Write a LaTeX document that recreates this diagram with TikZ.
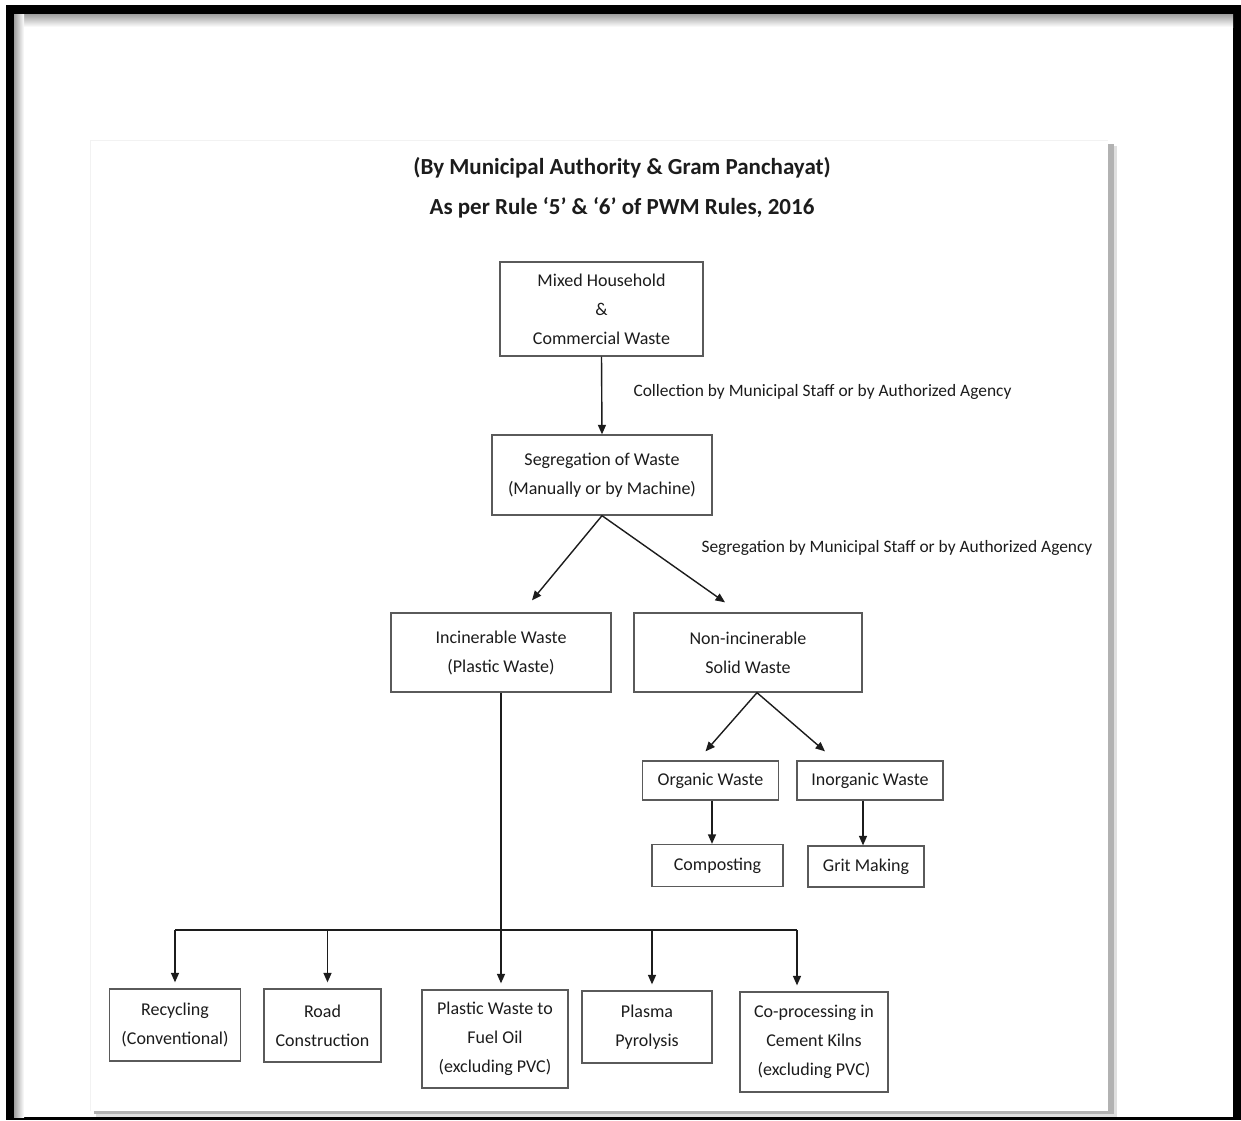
\documentclass[tikz,border=0pt]{standalone}
\usepackage{fontspec}
\setmainfont{Carlito}
\usetikzlibrary{arrows.meta}
\definecolor{boxgray}{HTML}{5A5A5A}
\definecolor{ink}{HTML}{1C1C1C}
\begin{document}
\begin{tikzpicture}[x=1pt,y=-1pt,
  box/.style={draw=boxgray,line width=1.3pt,text=ink,align=center,inner sep=0pt,
    font=\fontsize{18}{29}\selectfont},
  lbl/.style={anchor=west,text=ink,font=\fontsize{17.4}{22}\selectfont},
  ttl/.style={text=ink,font=\fontsize{23}{28}\selectfont\bfseries},
  conn/.style={draw=ink,line width=1.4pt},
  arr/.style={conn,-{Triangle[length=9.5pt,width=8pt]}}]
  \useasboundingbox (0,0) rectangle (1241,1120);
  % outer frame
  \fill[black] (6,5) rectangle (1241,1120);
  \fill[white] (14,14) rectangle (1233,1117);
  \shade[top color=gray!75,bottom color=white] (14,14) rectangle (1233,27);
  \shade[left color=gray!75,right color=white] (14,14) rectangle (24,1117);
  % page with shadow
  \fill[gray!25] (96,146) rectangle (1117,1117);
  \fill[gray!60] (94,144) rectangle (1114,1114);
  \fill[white] (90,140) rectangle (1108,1111);
  \draw[gray!10] (90,1111) -- (90,140) -- (1108,140);

  % title
  \node[ttl] (t1) at (622,168) {(By Municipal Authority \& Gram Panchayat)};
  \node[ttl] (t2) at (622,208) {As per Rule ‘5’ \& ‘6’ of PWM Rules, 2016};

  % boxes
  \node[box,minimum width=203pt,minimum height=94pt] (mixed) at (601.5,309)
    {Mixed Household\\\&\\Commercial Waste};
  \node[box,minimum width=220pt,minimum height=80pt] (segr) at (602,475)
    {Segregation of Waste\\(Manually or by Machine)};
  \node[box,minimum width=220pt,minimum height=79pt] (incin) at (501,652.5)
    {Incinerable Waste\\(Plastic Waste)};
  \node[box,minimum width=228pt,minimum height=79pt] (nonin) at (748,652.5)
    {Non-incinerable\\Solid Waste};
  \node[box,minimum width=136pt,minimum height=39pt] (organic) at (710.5,780.5) {Organic Waste};
  \node[box,minimum width=146pt,minimum height=39pt] (inorganic) at (870,780.5) {Inorganic Waste};
  \node[box,minimum width=131pt,minimum height=42pt] (compost) at (717.5,865.5) {Composting};
  \node[box,minimum width=116pt,minimum height=41pt] (grit) at (866,866.5) {Grit Making};
  \node[box,minimum width=131pt,minimum height=72pt] (recyc) at (175,1025)
    {Recycling\\(Conventional)};
  \node[box,minimum width=117pt,minimum height=73pt] (road) at (322.5,1025.5)
    {Road\\Construction};
  \node[box,minimum width=146pt,minimum height=98pt] (fuel) at (495,1039)
    {Plastic Waste to\\Fuel Oil\\(excluding PVC)};
  \node[box,minimum width=130pt,minimum height=72pt] (plasma) at (647,1027)
    {Plasma\\Pyrolysis};
  \node[box,minimum width=148pt,minimum height=100pt] (cement) at (814,1042)
    {Co-processing in\\Cement Kilns\\(excluding PVC)};

  % labels
  \node[lbl] (collect) at (630,392) {Collection by Municipal Staff or by Authorized Agency};
  \node[lbl] (segrby) at (698,548) {Segregation by Municipal Staff or by Authorized Agency};

  % connectors
  \draw[arr] (mixed.south) -- (segr.north);
  \draw[arr] (segr.south) -- ([xshift=31pt,yshift=12pt]incin.north);
  \draw[arr] (segr.south) -- ([xshift=-23pt,yshift=10pt]nonin.north);
  \draw[arr] ([xshift=9pt]nonin.south) -- ([xshift=-5pt,yshift=9pt]organic.north);
  \draw[arr] ([xshift=9pt]nonin.south) -- ([xshift=-45pt,yshift=9pt]inorganic.north);
  \draw[arr] ([xshift=1.5pt]organic.south) -- ([xshift=1.5pt]organic.south |- compost.north);
  \draw[arr] ([xshift=-7pt]inorganic.south) -- ([xshift=-7pt]inorganic.south |- grit.north);

  % plastic waste options
  \coordinate (bar) at (0,930);
  \draw[arr] (incin.south) -- ([yshift=6pt]incin.south |- fuel.north);
  \draw[conn] (recyc.north |- bar) -- ([xshift=-17pt]cement.north |- bar);
  \foreach \n/\dx in {recyc/0,road/5,plasma/5,cement/-17}
    \draw[arr] ([xshift=\dx pt]\n.north |- bar) -- ([xshift=\dx pt,yshift=6pt]\n.north);
\end{tikzpicture}
\end{document}
